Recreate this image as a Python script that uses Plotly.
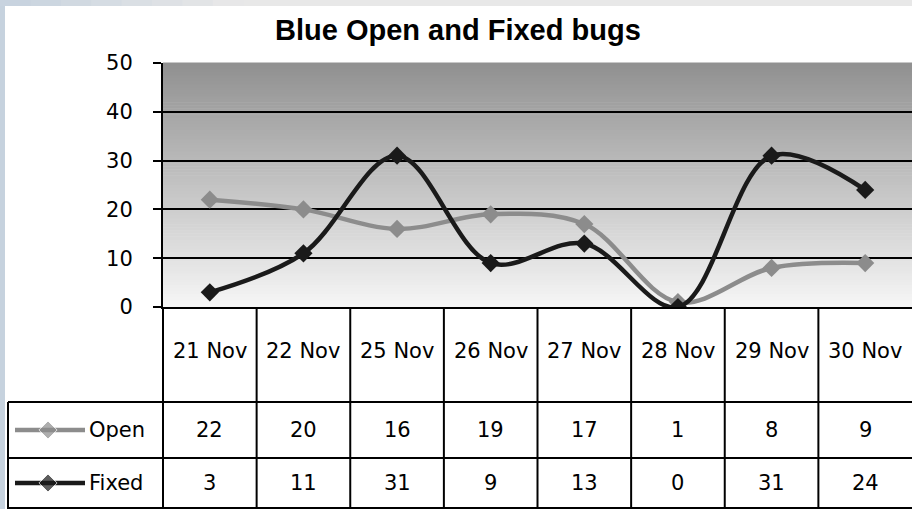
import plotly.graph_objects as go

# ---------------- data ----------------
categories = ["21 Nov", "22 Nov", "25 Nov", "26 Nov", "27 Nov", "28 Nov", "29 Nov", "30 Nov"]
open_bugs = [22, 20, 16, 19, 17, 1, 8, 9]
fixed_bugs = [3, 11, 31, 9, 13, 0, 31, 24]
series_names = ["Open", "Fixed"]
y_ticks = [0, 10, 20, 30, 40, 50]
title_text = "Blue Open and Fixed bugs"

# ---------------- style / layout ----------------
W, H = 912, 509
PL, PT, PB = 163, 63, 307          # plot area pixel edges (left, top, bottom)
ROW_OPEN_TOP, ROW_FIXED_TOP, TABLE_BOTTOM = 402, 458, 508
LEG_LEFT = 8
FONT = "DejaVu Sans"
TFONT = "Liberation Sans"
colors = {"Open": "#8c8c8c", "Fixed": "#1a1a1a"}
values = {"Open": open_bugs, "Fixed": fixed_bugs}
row_center = {"Open": 430, "Fixed": 483}

fig = go.Figure()

# main series
for name in series_names:
    fig.add_trace(go.Scatter(
        x=categories, y=values[name], name=name, mode="lines+markers",
        line=dict(color=colors[name], width=4.5, shape="spline", smoothing=1),
        marker=dict(symbol="diamond", size=14, color=colors[name]),
        xaxis="x", yaxis="y", showlegend=False, hoverinfo="x+y+name"))

# legend keys inside the data table (pixel overlay axes)
for name in series_names:
    yc = row_center[name]
    fig.add_trace(go.Scatter(
        x=[15, 48, 85], y=[yc, yc, yc], mode="lines+markers",
        line=dict(color=colors[name], width=4.5),
        marker=dict(symbol="diamond", size=[0, 14, 0], color=colors[name]),
        xaxis="x2", yaxis="y2", showlegend=False, hoverinfo="skip"))

shapes = []
# background strips of the window
shapes.append(dict(type="rect", xref="x2", yref="y2", x0=0, x1=5, y0=0, y1=H,
                   fillcolor="#c6d2de", line_width=0, layer="below"))
nseg = 30
for k in range(nseg):
    t = k / (nseg - 1)
    c0 = (200, 211, 223)
    c1 = (232, 232, 232)
    tt = min(1.0, t * 4)
    c = tuple(int(round(c0[i] + (c1[i] - c0[i]) * tt)) for i in range(3))
    shapes.append(dict(type="rect", xref="x2", yref="y2",
                       x0=k * W / nseg, x1=(k + 1) * W / nseg + 1, y0=0, y1=6,
                       fillcolor="rgb(%d,%d,%d)" % c, line_width=0, layer="below"))

# plot-area vertical gradient
n = 80
top_c, bot_c = 144, 246
for k in range(n):
    t = (k + 0.5) / n
    v = int(round(bot_c + (top_c - bot_c) * t))
    shapes.append(dict(type="rect", xref="x domain", yref="y domain",
                       x0=0, x1=1, y0=k / n, y1=(k + 1) / n + 0.002,
                       fillcolor="rgb(%d,%d,%d)" % (v, v, v), line_width=0, layer="below"))

# data table lines
line_style = dict(color="black", width=2)
for yy in [ROW_OPEN_TOP, ROW_FIXED_TOP, TABLE_BOTTOM]:
    shapes.append(dict(type="line", xref="x2", yref="y2", x0=LEG_LEFT, x1=W,
                       y0=yy, y1=yy, line=line_style))
shapes.append(dict(type="line", xref="x2", yref="y2", x0=LEG_LEFT, x1=LEG_LEFT,
                   y0=ROW_OPEN_TOP, y1=H, line=line_style))
shapes.append(dict(type="line", xref="x2", yref="y2", x0=PL, x1=PL,
                   y0=PB, y1=H, line=line_style))
for i in range(len(categories) - 1):
    shapes.append(dict(type="line", xref="x", yref="y2", x0=i + 0.5, x1=i + 0.5,
                       y0=PB, y1=H, line=line_style))

annotations = [dict(text="<b>%s</b>" % title_text, xref="x2", yref="y2", x=458, y=30,
                    showarrow=False, font=dict(family=TFONT, size=29, color="black"),
                    xanchor="center", yanchor="middle")]
for i, cat in enumerate(categories):
    annotations.append(dict(text=cat, xref="x", yref="y2", x=i, y=351, showarrow=False,
                            font=dict(family=FONT, size=21, color="black"),
                            xanchor="center", yanchor="middle"))
    for name in series_names:
        annotations.append(dict(text=str(values[name][i]), xref="x", yref="y2", x=i,
                                y=row_center[name], showarrow=False,
                                font=dict(family=FONT, size=21, color="black"),
                                xanchor="center", yanchor="middle"))
for name in series_names:
    annotations.append(dict(text=name, xref="x2", yref="y2", x=87, y=row_center[name],
                            showarrow=False, font=dict(family=FONT, size=21, color="black"),
                            xanchor="left", yanchor="middle"))

fig.update_layout(
    width=W, height=H, autosize=False,
    margin=dict(l=0, r=0, t=0, b=0, pad=0),
    paper_bgcolor="white", plot_bgcolor="rgba(0,0,0,0)",
    showlegend=False,
    xaxis=dict(domain=[PL / W, 1], type="category", range=[-0.5, len(categories) - 0.5],
               showticklabels=False, showgrid=False, zeroline=False,
               showline=True, linecolor="black", linewidth=2, ticks="",
               anchor="y", fixedrange=True, automargin=False),
    yaxis=dict(domain=[1 - PB / H, 1 - PT / H], range=[0, 50], tickvals=y_ticks,
               showgrid=True, gridcolor="black", gridwidth=2, zeroline=False,
               showline=True, linecolor="black", linewidth=2,
               ticks="outside", ticklen=8, tickwidth=2, tickcolor="black",
               ticklabelstandoff=16,
               tickfont=dict(family=FONT, size=21, color="black"),
               anchor="x", fixedrange=True, automargin=False),
    xaxis2=dict(domain=[0, 1], range=[0, W], visible=False, anchor="y2",
                fixedrange=True, automargin=False),
    yaxis2=dict(domain=[0, 1], range=[H, 0], visible=False, anchor="x2",
                fixedrange=True, automargin=False),
    shapes=shapes,
    annotations=annotations,
)

fig.write_html("out.html", config={"displayModeBar": False},
               post_script="document.body.style.margin='0';document.body.style.padding='0';")
